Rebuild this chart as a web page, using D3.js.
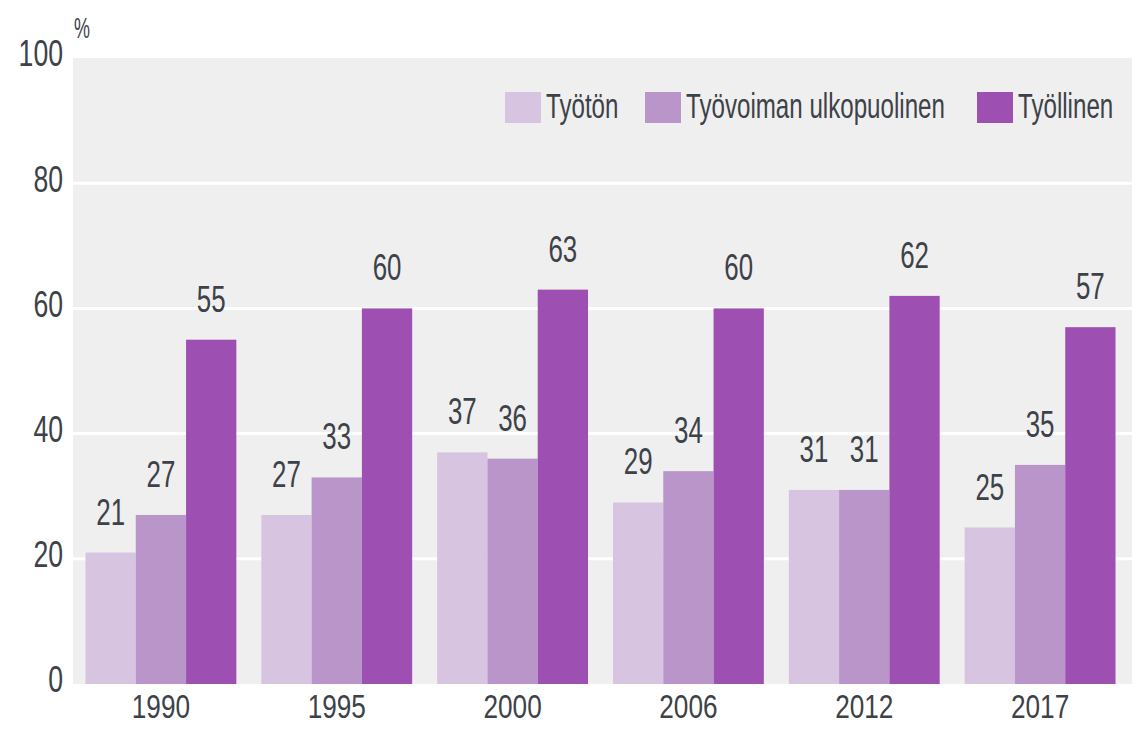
<!DOCTYPE html>
<html>
<head>
<meta charset="utf-8">
<script src="https://cdn.jsdelivr.net/npm/d3@7"></script>
<style>
  html, body { margin: 0; padding: 0; background: #ffffff; }
  svg { display: block; }
  text { font-family: "Liberation Sans", Arial, sans-serif; fill: #3d4248; }
</style>
</head>
<body>
<svg id="chart" width="1146" height="732"></svg>
<script>
const years = ["1990", "1995", "2000", "2006", "2012", "2017"];
const seriesNames = ["Työtön", "Työvoiman ulkopuolinen", "Työllinen"];
const tyoton = [21, 27, 37, 29, 31, 25];
const ulkopuolinen = [27, 33, 36, 34, 31, 35];
const tyollinen = [55, 60, 63, 60, 62, 57];
const yTicks = [0, 20, 40, 60, 80, 100];
const colors = ["#d6c4e0", "#b995c9", "#9d50b1"];

const seriesValues = [tyoton, ulkopuolinen, tyollinen];

const svg = d3.select("#chart");
const margin = { left: 73, right: 18, top: 58, bottom: 48 };
const W = 1146, H = 732;
const plotW = W - margin.left - margin.right;
const plotH = H - margin.top - margin.bottom;

const x0 = d3.scaleBand().domain(years).range([margin.left, margin.left + plotW])
  .paddingInner(0.142).paddingOuter(0.071);
const x1 = d3.scaleBand().domain(seriesNames).range([0, x0.bandwidth()]).padding(0);
const y = d3.scaleLinear().domain([0, 100]).range([margin.top + plotH, margin.top]);

// condensed text helper
function place(sel, fx, fy, sx) {
  sel.attr("transform", (d, i) => `translate(${fx(d, i)},${fy(d, i)}) scale(${sx},1)`);
}

// background
svg.append("rect")
  .attr("x", margin.left).attr("y", margin.top)
  .attr("width", plotW + 4).attr("height", plotH)
  .attr("fill", "#efefef");

// gridlines
svg.append("g").selectAll("line").data(yTicks.filter(d => d > 0 && d < 100)).join("line")
  .attr("x1", margin.left).attr("x2", margin.left + plotW + 4)
  .attr("y1", d => y(d)).attr("y2", d => y(d))
  .attr("stroke", "#ffffff").attr("stroke-width", 3);

// y tick labels
svg.append("g").selectAll("text").data(yTicks).join("text")
  .attr("text-anchor", "end")
  .attr("dy", "0.36em")
  .attr("font-size", 37)
  .text(d => d)
  .call(place, () => margin.left - 10, d => y(d) - 5, 0.72);

svg.append("text")
  .attr("font-size", 29)
  .text("%")
  .call(place, () => margin.left + 1, () => 38, 0.62);

// bars
const data = [];
years.forEach((yr, i) => {
  seriesNames.forEach((s, j) => {
    data.push({ year: yr, series: s, value: seriesValues[j][i], j });
  });
});

const groups = svg.append("g");
groups.selectAll("rect").data(data).join("rect")
  .attr("x", d => x0(d.year) + x1(d.series))
  .attr("y", d => y(d.value))
  .attr("width", x1.bandwidth())
  .attr("height", d => y(0) - y(d.value))
  .attr("fill", d => colors[d.j]);

// value labels
groups.selectAll("text").data(data).join("text")
  .attr("text-anchor", "middle")
  .attr("font-size", 37)
  .text(d => d.value)
  .call(place, d => x0(d.year) + x1(d.series) + x1.bandwidth() / 2, d => y(d.value) - 28, 0.7);

// x labels
svg.append("g").selectAll("text").data(years).join("text")
  .attr("text-anchor", "middle")
  .attr("font-size", 34)
  .text(d => d)
  .call(place, d => x0(d) + x0.bandwidth() / 2, () => y(0) + 34, 0.77);

// legend
const legendX = [505, 645, 977];
const legend = svg.append("g");
seriesNames.forEach((s, j) => {
  const g = legend.append("g").attr("transform", `translate(${legendX[j]}, 92)`);
  g.append("rect").attr("width", 36).attr("height", 31).attr("fill", colors[j]);
  g.append("text")
    .attr("font-size", 35)
    .text(s)
    .attr("transform", "translate(41,26) scale(0.69,1)");
});
</script>
</body>
</html>
